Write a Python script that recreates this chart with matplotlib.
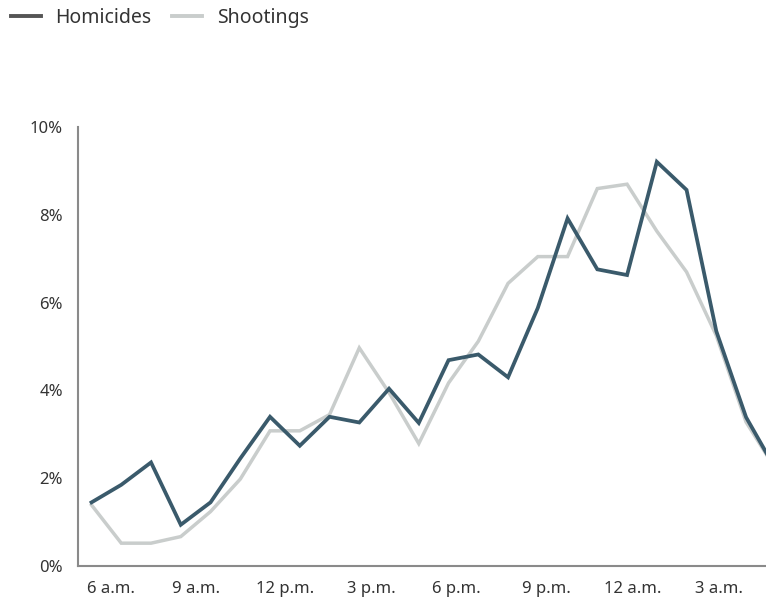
import numpy as np
import matplotlib
matplotlib.use("Agg")
import matplotlib.pyplot as plt
from matplotlib.lines import Line2D

# hourly share of incidents, 6 a.m. through 5 a.m.
hours = ['6 a.m.', '7 a.m.', '8 a.m.', '9 a.m.', '10 a.m.', '11 a.m.',
         '12 p.m.', '1 p.m.', '2 p.m.', '3 p.m.', '4 p.m.', '5 p.m.',
         '6 p.m.', '7 p.m.', '8 p.m.', '9 p.m.', '10 p.m.', '11 p.m.',
         '12 a.m.', '1 a.m.', '2 a.m.', '3 a.m.', '4 a.m.', '5 a.m.']
homicides = [1.45, 1.85, 2.36, 0.94, 1.45, 2.45, 3.40, 2.74, 3.40, 3.27, 4.04, 3.26,
             4.69, 4.82, 4.30, 5.88, 7.92, 6.76, 6.63, 9.21, 8.57, 5.35, 3.39, 2.20]
shootings = [1.39, 0.52, 0.52, 0.67, 1.24, 1.98, 3.08, 3.08, 3.45, 4.97, 3.95, 2.79,
             4.17, 5.12, 6.44, 7.05, 7.05, 8.60, 8.70, 7.63, 6.70, 5.25, 3.28, 2.20]
tick_labels = ['6 a.m.', '9 a.m.', '12 p.m.', '3 p.m.', '6 p.m.', '9 p.m.', '12 a.m.', '3 a.m.']
tick_pos = [0.67, 3.5, 6.5, 9.41, 12.27, 15.3, 18.2, 21.09]
y_ticks = [0, 2, 4, 6, 8, 10]

plt.rcParams['font.family'] = ['Noto Sans', 'DejaVu Sans']

c_hom = '#3a5a6b'
c_sho = '#c9cdcc'
c_axis = '#8a8a8a'
c_text = '#333333'

fig = plt.figure(figsize=(7.66, 6.02), dpi=100)
ax = fig.add_axes([0.102, 0.0598, 0.898, 0.729])

x = np.arange(len(hours))
ax.plot(x, shootings, color=c_sho, lw=2.5, solid_joinstyle='miter', zorder=2)
ax.plot(x, homicides, color=c_hom, lw=2.7, solid_joinstyle='miter', zorder=3)

ax.set_xlim(-0.45, 22.67)
ax.set_ylim(0, 10)

ax.set_yticks(y_ticks)
ax.set_yticklabels([f'{v}%' for v in y_ticks])
ax.set_xticks(tick_pos)
ax.set_xticklabels(tick_labels)
ax.tick_params(axis='y', length=0, pad=11, labelsize=12, labelcolor=c_text)
ax.tick_params(axis='x', length=0, pad=11, labelsize=12, labelcolor=c_text)

for s in ['top', 'right']:
    ax.spines[s].set_visible(False)
for s in ['left', 'bottom']:
    ax.spines[s].set_color(c_axis)
    ax.spines[s].set_linewidth(1.5)

handles = [Line2D([], [], color='#555555', lw=2.8),
           Line2D([], [], color=c_sho, lw=2.8)]
fig.legend(handles, ['Homicides', 'Shootings'], loc='upper left',
           bbox_to_anchor=(-0.009, 1.016), ncol=2, frameon=False,
           fontsize=14, handlelength=1.55, handletextpad=0.75,
           columnspacing=1.05, labelcolor=c_text)

fig.savefig('out.png', dpi=100)
